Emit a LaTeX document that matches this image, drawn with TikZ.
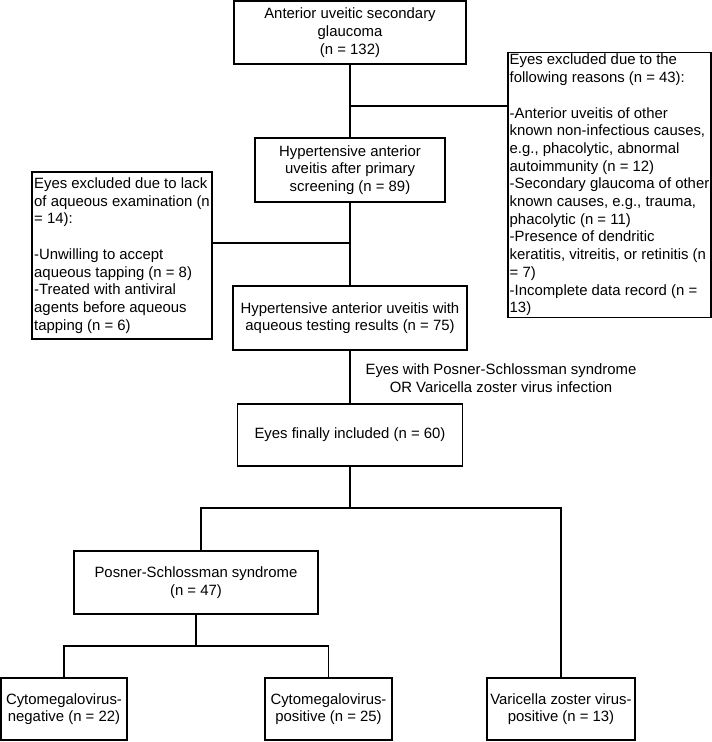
\documentclass[tikz,border=0pt]{standalone}
\usepackage{fontspec}
\setmainfont{Liberation Sans}

\begin{document}
\begin{tikzpicture}[x=1pt, y=-1pt, line width=1.3pt,
	box/.style={draw, inner sep=1.5pt, align=center, font=\fontsize{14.9}{17.7}\selectfont},
	lbox/.style={box, align=left}]
	\useasboundingbox (0,0) rectangle (712,742);
	% main column
	\node [box, minimum width=232pt, minimum height=63pt] (start) at (350, 32.5) {Anterior uveitic secondary\\glaucoma\\(n = 132)};
	\node [box, minimum width=190pt, minimum height=64pt] (screen) at (350, 170) {Hypertensive anterior\\uveitis after primary\\screening (n = 89)};
	\node [box, minimum width=234pt, minimum height=64pt] (test) at (350, 318) {Hypertensive anterior uveitis with\\aqueous testing results (n = 75)};
	\node [box, minimum width=225pt, minimum height=62pt] (final) at (350, 435) {Eyes finally included (n = 60)};
	\node [font=\fontsize{14.9}{17.7}\selectfont, align=center] (note) at (501, 378.5) {Eyes with Posner-Schlossman syndrome\\OR Varicella zoster virus infection};
	% excluded eyes
	\node [lbox, minimum width=203pt, minimum height=264pt] (excl1) at (609.5, 185) {Eyes excluded due to the\\following reasons (n = 43):\\[17.7pt]-Anterior uveitis of other\\known non-infectious causes,\\e.g., phacolytic, abnormal\\autoimmunity (n = 12)\\-Secondary glaucoma of other\\known causes, e.g., trauma,\\phacolytic (n = 11)\\-Presence of dendritic\\keratitis, vitreitis, or retinitis (n\\= 7)\\-Incomplete data record (n =\\13)};
	\node [lbox, minimum width=180pt, minimum height=167pt] (excl2) at (122, 255.5) {Eyes excluded due to lack\\of aqueous examination (n\\= 14):\\[17.7pt]-Unwilling to accept\\aqueous tapping (n = 8)\\-Treated with antiviral\\agents before aqueous\\tapping (n = 6)};
	% groups
	\node [box, minimum width=244pt, minimum height=63pt] (pss) at (196, 582.5) {Posner-Schlossman syndrome\\(n = 47)};
	\node [box, minimum width=126pt, minimum height=62pt] (neg) at (64, 709) {Cytomegalovirus-\\negative (n = 22)};
	\node [box, minimum width=127pt, minimum height=62pt] (pos) at (328.5, 709) {Cytomegalovirus-\\positive (n = 25)};
	\node [box, minimum width=148pt, minimum height=62pt] (vzv) at (561, 709) {Varicella zoster virus-\\positive (n = 13)};
	% connectors
	\coordinate (j1) at (350, 106);
	\coordinate (j2) at (350, 243);
	\coordinate (j3) at (350, 508);
	\coordinate (j4) at (196, 646);
	\draw (start) -- (screen);
	\draw (j1) -- (j1 -| excl1.west);
	\draw (screen) -- (test);
	\draw (j2) -- (j2 -| excl2.east);
	\draw (test) -- (final);
	\draw (final) -- (j3);
	\draw ([xshift=5pt]pss.north) |- (j3) -| (vzv);
	\draw (pss) -- (j4);
	\draw (neg) |- (j4) -| (pos);
\end{tikzpicture}
\end{document}
